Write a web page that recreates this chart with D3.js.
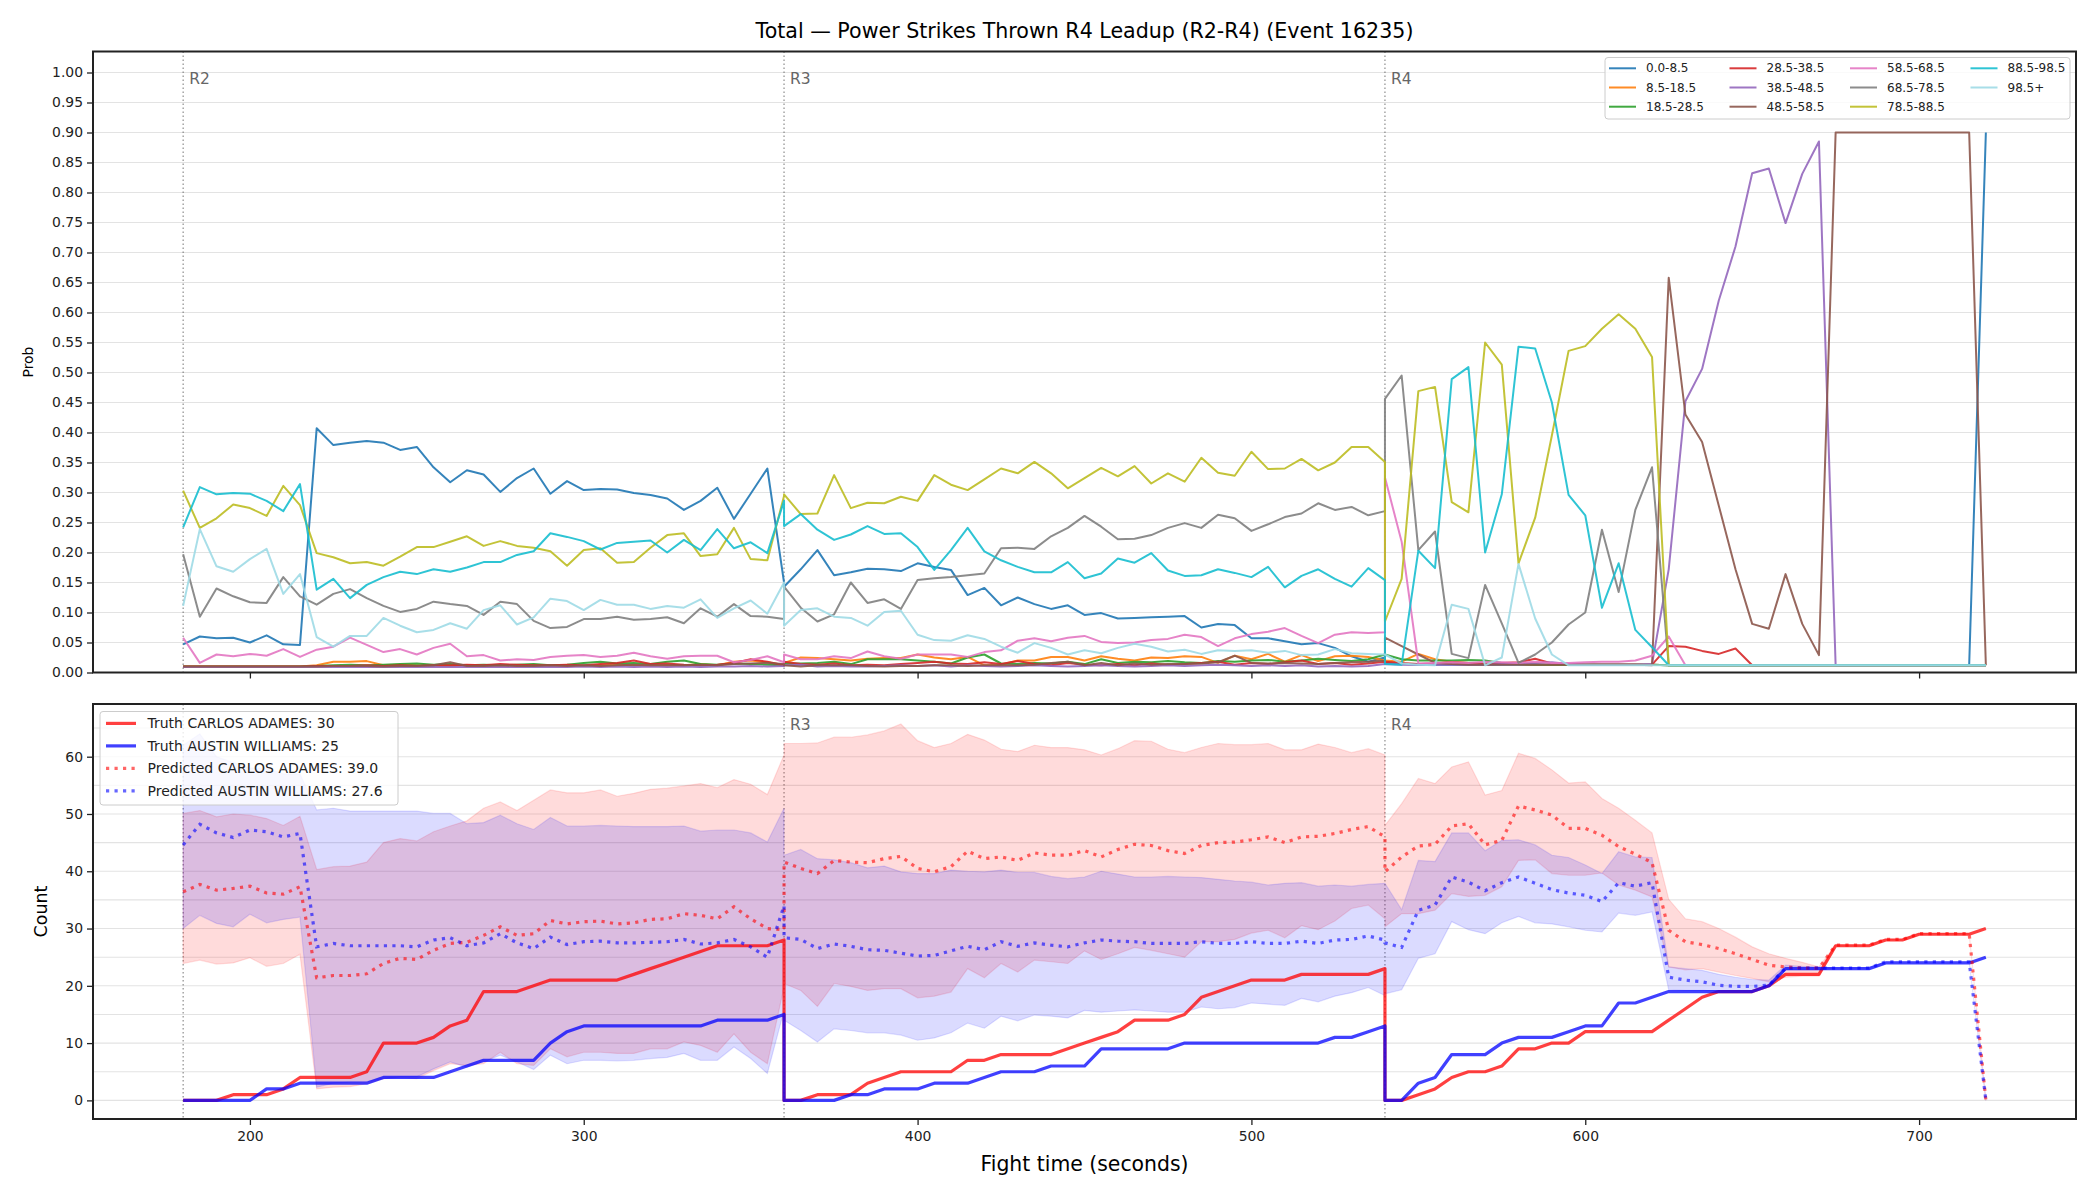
<!DOCTYPE html>
<html>
<head>
<meta charset="utf-8">
<script src="https://cdnjs.cloudflare.com/ajax/libs/d3/7.8.5/d3.min.js"></script>
<style>
  body { margin: 0; background: #fff; }
  svg { display: block; font-family: "DejaVu Sans", sans-serif; }
</style>
</head>
<body>
<svg id="chart" width="2100" height="1200"></svg>
<script>
// ---- data ----
const roundStarts = [180, 360, 540];
const roundLabels = ['R2', 'R3', 'R4'];
const probTicks = [0, 0.05, 0.1, 0.15, 0.2, 0.25, 0.3, 0.35, 0.4, 0.45, 0.5, 0.55, 0.6, 0.65, 0.7, 0.75, 0.8, 0.85, 0.9, 0.95, 1.0];
const countTicks = [0, 10, 20, 30, 40, 50, 60];
const countGrid = [0, 5, 10, 15, 20, 25, 30, 35, 40, 45, 50, 55, 60, 65];
const timeTicks = [200, 300, 400, 500, 600, 700];

const binLabels = ['0.0-8.5', '8.5-18.5', '18.5-28.5', '28.5-38.5', '38.5-48.5', '48.5-58.5',
  '58.5-68.5', '68.5-78.5', '78.5-88.5', '88.5-98.5', '98.5+'];
const binColors = ['#1f77b4', '#ff7f0e', '#2ca02c', '#d62728', '#9467bd', '#8c564b',
  '#e377c2', '#7f7f7f', '#bcbd22', '#17becf', '#9edae5'];

// each probability series: R2 (37 samples), R3 (37), R4 (37)
const bin_0_8 = [
  0.047,0.060,0.057,0.058,0.050,0.062,0.047,0.046,0.407,0.379,
  0.383,0.386,0.383,0.371,0.376,0.342,0.317,0.337,0.330,0.301,
  0.324,0.340,0.298,0.319,0.304,0.306,0.305,0.299,0.296,0.290,
  0.271,0.286,0.308,0.256,0.298,0.340,0.150,
  0.143,0.172,0.204,0.162,0.167,0.173,0.172,0.169,0.182,0.176,
  0.171,0.129,0.141,0.112,0.125,0.114,0.106,0.112,0.096,0.099,
  0.090,0.091,0.092,0.093,0.094,0.075,0.081,0.079,0.057,0.057,
  0.052,0.047,0.049,0.041,0.027,0.018,0.025,
  0.016,0.014,0.013,0.013,0.013,0.013,0.013,0.013,0.013,0.013,
  0.013,0.013,0.013,0.013,0.013,0.013,0.013,0.012,0.012,0.012,
  0.012,0.012,0.012,0.012,0.012,0.012,0.012,0.012,0.012,0.012,
  0.012,0.012,0.012,0.012,0.012,0.012,0.900
];
const bin_8_18 = [
  0.010,0.010,0.010,0.010,0.010,0.010,0.010,0.010,0.012,0.018,
  0.018,0.019,0.012,0.013,0.012,0.011,0.011,0.012,0.011,0.012,
  0.011,0.011,0.012,0.011,0.011,0.012,0.013,0.012,0.012,0.013,
  0.012,0.014,0.012,0.018,0.020,0.017,0.012,
  0.016,0.025,0.024,0.022,0.020,0.023,0.024,0.024,0.030,0.025,
  0.022,0.026,0.012,0.013,0.020,0.020,0.026,0.026,0.020,0.027,
  0.023,0.020,0.025,0.024,0.027,0.026,0.016,0.028,0.022,0.031,
  0.018,0.029,0.019,0.027,0.028,0.026,0.020,
  0.020,0.018,0.031,0.022,0.018,0.016,0.015,0.014,0.014,0.013,
  0.013,0.013,0.013,0.013,0.013,0.013,0.013,0.012,0.012,0.012,
  0.012,0.012,0.012,0.012,0.012,0.012,0.012,0.012,0.012,0.012,
  0.012,0.012,0.012,0.012,0.012,0.012,0.012
];
const bin_18_28 = [
  0.010,0.010,0.010,0.010,0.010,0.010,0.010,0.010,0.011,0.012,
  0.013,0.012,0.013,0.014,0.015,0.013,0.014,0.012,0.013,0.012,
  0.013,0.014,0.012,0.013,0.016,0.018,0.015,0.016,0.014,0.018,
  0.020,0.014,0.013,0.015,0.014,0.013,0.012,
  0.015,0.015,0.016,0.018,0.014,0.022,0.022,0.022,0.020,0.018,
  0.015,0.025,0.030,0.015,0.014,0.016,0.015,0.018,0.014,0.022,
  0.016,0.018,0.017,0.019,0.017,0.016,0.019,0.018,0.020,0.021,
  0.018,0.020,0.023,0.021,0.019,0.022,0.030,
  0.030,0.022,0.020,0.020,0.020,0.021,0.020,0.016,0.014,0.013,
  0.013,0.013,0.013,0.013,0.013,0.013,0.013,0.012,0.012,0.012,
  0.012,0.012,0.012,0.012,0.012,0.012,0.012,0.012,0.012,0.012,
  0.012,0.012,0.012,0.012,0.012,0.012,0.012
];
const bin_28_38 = [
  0.010,0.010,0.010,0.010,0.010,0.010,0.010,0.010,0.011,0.011,
  0.011,0.012,0.011,0.012,0.011,0.012,0.012,0.013,0.012,0.014,
  0.013,0.012,0.012,0.013,0.012,0.014,0.016,0.020,0.014,0.015,
  0.013,0.012,0.013,0.016,0.022,0.018,0.012,
  0.018,0.014,0.013,0.015,0.012,0.013,0.012,0.014,0.016,0.018,
  0.015,0.014,0.017,0.014,0.019,0.014,0.012,0.016,0.013,0.012,
  0.014,0.012,0.015,0.013,0.014,0.016,0.018,0.013,0.016,0.014,
  0.017,0.020,0.014,0.016,0.013,0.015,0.018,
  0.018,0.016,0.014,0.015,0.017,0.016,0.014,0.016,0.017,0.023,
  0.015,0.014,0.013,0.013,0.013,0.013,0.013,0.044,0.043,0.036,
  0.031,0.040,0.012,0.012,0.012,0.012,0.012,0.012,0.012,0.012,
  0.012,0.012,0.012,0.012,0.012,0.012,0.012
];
const bin_38_48 = [
  0.009,0.009,0.009,0.009,0.009,0.009,0.009,0.009,0.009,0.009,
  0.009,0.009,0.009,0.009,0.009,0.009,0.009,0.009,0.009,0.009,
  0.009,0.009,0.009,0.009,0.010,0.009,0.010,0.009,0.010,0.009,
  0.010,0.009,0.010,0.010,0.011,0.010,0.011,
  0.012,0.013,0.010,0.011,0.010,0.010,0.011,0.012,0.011,0.012,
  0.010,0.012,0.011,0.010,0.011,0.012,0.011,0.010,0.011,0.012,
  0.011,0.010,0.011,0.012,0.011,0.012,0.013,0.012,0.011,0.012,
  0.011,0.012,0.010,0.011,0.010,0.011,0.014,
  0.014,0.013,0.013,0.013,0.013,0.013,0.013,0.014,0.015,0.016,
  0.017,0.014,0.013,0.013,0.013,0.013,0.014,0.172,0.452,0.506,
  0.620,0.710,0.832,0.840,0.749,0.831,0.885,0.012,0.012,0.012,
  0.012,0.012,0.012,0.012,0.012,0.012,0.012
];
const bin_48_58 = [
  0.010,0.010,0.010,0.010,0.010,0.010,0.010,0.010,0.010,0.011,
  0.011,0.011,0.010,0.011,0.011,0.012,0.017,0.011,0.011,0.012,
  0.011,0.011,0.012,0.011,0.012,0.011,0.012,0.013,0.012,0.012,
  0.012,0.013,0.012,0.014,0.015,0.016,0.014,
  0.012,0.010,0.012,0.012,0.012,0.011,0.010,0.011,0.011,0.012,
  0.012,0.011,0.012,0.012,0.012,0.013,0.016,0.018,0.012,0.016,
  0.012,0.015,0.013,0.014,0.014,0.015,0.017,0.028,0.016,0.015,
  0.016,0.015,0.014,0.016,0.017,0.018,0.020,
  0.058,0.044,0.030,0.016,0.014,0.013,0.013,0.013,0.013,0.013,
  0.013,0.013,0.013,0.013,0.013,0.013,0.012,0.658,0.430,0.384,
  0.278,0.172,0.081,0.073,0.164,0.081,0.029,0.900,0.900,0.900,
  0.900,0.900,0.900,0.900,0.900,0.900,0.012
];
const bin_58_68 = [
  0.058,0.016,0.030,0.027,0.031,0.028,0.039,0.026,0.038,0.043,
  0.058,0.046,0.034,0.039,0.030,0.041,0.048,0.027,0.029,0.020,
  0.022,0.021,0.026,0.028,0.029,0.026,0.028,0.033,0.027,0.023,
  0.027,0.028,0.028,0.017,0.021,0.027,0.017,
  0.030,0.022,0.022,0.027,0.024,0.035,0.027,0.023,0.030,0.030,
  0.030,0.026,0.034,0.037,0.053,0.057,0.052,0.058,0.061,0.051,
  0.049,0.050,0.054,0.056,0.063,0.059,0.044,0.057,0.064,0.068,
  0.074,0.061,0.049,0.063,0.067,0.066,0.067,
  0.325,0.218,0.015,0.016,0.017,0.016,0.018,0.017,0.016,0.018,
  0.016,0.016,0.017,0.018,0.018,0.020,0.028,0.060,0.012,0.012,
  0.012,0.012,0.012,0.012,0.012,0.012,0.012,0.012,0.012,0.012,
  0.012,0.012,0.012,0.012,0.012,0.012,0.012
];
const bin_68_78 = [
  0.197,0.093,0.140,0.127,0.117,0.116,0.159,0.127,0.113,0.131,
  0.139,0.124,0.111,0.101,0.106,0.118,0.114,0.111,0.096,0.118,
  0.114,0.086,0.074,0.076,0.089,0.089,0.093,0.088,0.089,0.092,
  0.082,0.107,0.093,0.114,0.094,0.093,0.089,
  0.143,0.108,0.085,0.097,0.150,0.116,0.122,0.106,0.154,0.157,
  0.159,0.162,0.165,0.207,0.208,0.206,0.227,0.241,0.261,0.243,
  0.222,0.223,0.229,0.241,0.249,0.241,0.263,0.257,0.236,0.247,
  0.259,0.265,0.282,0.271,0.276,0.262,0.269,
  0.456,0.495,0.204,0.235,0.031,0.024,0.146,0.082,0.016,0.030,
  0.050,0.080,0.100,0.238,0.134,0.271,0.342,0.012,0.012,0.012,
  0.012,0.012,0.012,0.012,0.012,0.012,0.012,0.012,0.012,0.012,
  0.012,0.012,0.012,0.012,0.012,0.012,0.012
];
const bin_78_88 = [
  0.303,0.241,0.257,0.280,0.274,0.261,0.311,0.279,0.199,0.192,
  0.182,0.184,0.178,0.193,0.209,0.209,0.218,0.227,0.211,0.219,
  0.211,0.208,0.202,0.178,0.204,0.207,0.183,0.184,0.208,0.229,
  0.232,0.194,0.197,0.241,0.189,0.187,0.294,
  0.297,0.264,0.265,0.329,0.274,0.283,0.282,0.293,0.286,0.329,
  0.313,0.304,0.322,0.340,0.332,0.351,0.332,0.307,0.324,0.341,
  0.327,0.344,0.315,0.332,0.318,0.358,0.333,0.328,0.368,0.339,
  0.340,0.356,0.337,0.350,0.376,0.376,0.351,
  0.085,0.156,0.469,0.476,0.284,0.267,0.550,0.513,0.182,0.258,
  0.395,0.536,0.544,0.573,0.597,0.573,0.526,0.012,0.012,0.012,
  0.012,0.012,0.012,0.012,0.012,0.012,0.012,0.012,0.012,0.012,
  0.012,0.012,0.012,0.012,0.012,0.012,0.012
];
const bin_88_98 = [
  0.242,0.309,0.297,0.299,0.298,0.286,0.269,0.314,0.138,0.156,
  0.124,0.146,0.159,0.168,0.164,0.172,0.168,0.175,0.184,0.184,
  0.196,0.202,0.232,0.226,0.219,0.205,0.216,0.218,0.220,0.200,
  0.221,0.204,0.239,0.207,0.217,0.199,0.286,
  0.244,0.264,0.238,0.221,0.230,0.244,0.231,0.232,0.209,0.171,
  0.204,0.241,0.202,0.187,0.176,0.167,0.167,0.184,0.157,0.165,
  0.190,0.183,0.199,0.170,0.161,0.162,0.172,0.166,0.159,0.176,
  0.142,0.161,0.172,0.156,0.143,0.174,0.154,
  0.014,0.013,0.203,0.174,0.489,0.509,0.200,0.297,0.543,0.540,
  0.450,0.296,0.262,0.108,0.182,0.071,0.042,0.012,0.012,0.012,
  0.012,0.012,0.012,0.012,0.012,0.012,0.012,0.012,0.012,0.012,
  0.012,0.012,0.012,0.012,0.012,0.012,0.012
];
const bin_98_up = [
  0.111,0.239,0.177,0.168,0.189,0.206,0.131,0.164,0.059,0.043,
  0.061,0.061,0.091,0.078,0.067,0.071,0.082,0.073,0.104,0.112,
  0.080,0.092,0.123,0.119,0.104,0.121,0.113,0.113,0.106,0.111,
  0.108,0.122,0.091,0.107,0.120,0.098,0.150,
  0.078,0.104,0.107,0.093,0.091,0.078,0.101,0.103,0.063,0.054,
  0.053,0.062,0.056,0.043,0.033,0.049,0.041,0.030,0.037,0.032,
  0.041,0.048,0.043,0.035,0.038,0.031,0.037,0.036,0.037,0.033,
  0.036,0.029,0.030,0.039,0.032,0.031,0.030,
  0.030,0.015,0.013,0.012,0.113,0.106,0.012,0.025,0.181,0.090,
  0.030,0.012,0.012,0.012,0.012,0.012,0.012,0.012,0.012,0.012,
  0.012,0.012,0.012,0.012,0.012,0.012,0.012,0.012,0.012,0.012,
  0.012,0.012,0.012,0.012,0.012,0.012,0.012
];
const binSeries = [bin_0_8, bin_8_18, bin_18_28, bin_28_38, bin_38_48, bin_48_58,
  bin_58_68, bin_68_78, bin_78_88, bin_88_98, bin_98_up];

// counts (bottom panel), R2 / R3 / R4
const truthAdames = [
  0,0,0,1,1,1,2,4,4,4, 4,5,10,10,10,11,13,14,19,19, 19,20,21,21,21,21,21,22,23,24, 25,26,27,27,27,27,28,
  0,0,1,1,1,3,4,5,5,5, 5,7,7,8,8,8,8,9,10,11, 12,14,14,14,15,18,19,20,21,21, 21,22,22,22,22,22,23,
  0,0,1,2,4,5,5,6,9,9, 10,10,12,12,12,12,12,14,16,18, 19,19,19,20,22,22,22,27,27,27, 28,28,29,29,29,29,30
];
const truthWilliams = [
  0,0,0,0,0,2,2,3,3,3, 3,3,4,4,4,4,5,6,7,7, 7,7,10,12,13,13,13,13,13,13, 13,13,14,14,14,14,15,
  0,0,0,0,1,1,2,2,2,3, 3,3,4,5,5,5,6,6,6,9, 9,9,9,9,10,10,10,10,10,10, 10,10,10,11,11,12,13,
  0,0,3,4,8,8,8,10,11,11, 11,12,13,13,17,17,18,19,19,19, 19,19,19,20,23,23,23,23,23,23, 24,24,24,24,24,24,25
];
const predAdames = [
  36.4,37.7,36.7,37.0,37.4,36.2,36.0,37.3,21.4,21.8, 21.8,22.1,23.9,24.8,24.6,26.2,27.4,27.6,28.8,30.3,
  28.8,29.1,31.4,30.8,31.2,31.3,30.8,31.0,31.6,31.7, 32.6,32.3,31.7,33.8,31.7,30.0,29.8,
  41.6,40.5,39.6,41.9,41.6,41.5,42.2,42.6,40.5,39.9, 40.8,43.5,42.2,42.5,41.9,43.2,42.8,42.8,43.6,42.5,
  43.8,44.7,44.5,43.6,43.1,44.5,45.0,45.1,45.5,46.0, 45.0,46.0,46.1,46.6,47.3,47.8,46.0,
  39.9,42.5,44.4,44.7,47.9,48.3,44.6,45.4,51.4,50.7, 49.8,47.5,47.5,46.3,44.3,43.0,41.5,29.7,27.7,27.2,
  26.5,25.6,24.6,23.6,23.3,23.1,23.1,27.1,27.1,27.1, 28.1,28.1,29.1,29.1,29.1,29.1,0
];
const predWilliams = [
  44.6,48.2,46.7,45.9,47.2,46.9,46.0,46.6,26.8,27.4, 27.0,27.0,27.0,27.0,26.8,28.0,28.4,27.0,27.5,29.1,
  27.5,26.5,28.5,27.2,27.7,27.8,27.5,27.5,27.6,27.7, 28.1,27.3,27.5,28.1,26.8,25.0,34.0,
  28.4,28.1,26.5,27.3,26.9,26.3,26.2,25.7,25.2,25.3, 26.1,26.9,26.3,27.7,26.9,27.5,27.1,26.8,27.5,28.0,
  27.8,27.7,27.4,27.4,27.4,27.7,27.4,27.4,27.7,27.4, 27.4,27.8,27.4,28.0,28.1,28.7,28.0,
  27.5,26.7,33.2,34.1,39.0,38.1,36.6,38.0,39.0,37.9, 36.8,36.2,35.8,34.7,38.0,37.4,38.0,21.5,21.0,20.7,
  20.1,19.9,19.9,20.1,23.1,23.1,23.1,23.1,23.1,23.1, 24.2,24.2,24.2,24.2,24.2,24.2,0
];
const adamesLow = [
  23.9,24.5,23.8,24.0,24.9,23.4,23.9,25.5,2.0,2.3, 2.4,2.9,3.8,4.0,3.8,5.2,6.4,6.1,6.4,8.4,
  6.4,6.1,9.0,7.6,8.4,8.4,8.2,8.2,9.0,9.0, 10.2,9.6,8.4,11.6,8.4,6.4,19.8,
  20.4,19.2,16.4,20.4,19.9,19.2,19.5,19.5,17.9,18.2, 18.9,23.0,21.4,23.9,22.4,24.5,24.2,23.9,26.1,24.6,
  25.6,26.7,26.2,25.6,25.0,27.7,27.7,28.1,29.2,29.7, 28.4,30.5,29.8,31.3,33.5,34.1,31.7,
  30.3,32.6,32.6,33.2,36.1,35.6,35.8,37.3,41.9,42.0, 39.6,39.3,39.3,39.7,37.6,36.7,35.5,23.3,22.8,23.0,
  22.4,21.8,21.3,20.7,21.5,21.7,21.7,27.1,27.1,27.1, 28.1,28.1,29.1,29.1,29.1,29.1,0
];
const adamesHigh = [
  50.1,50.6,49.5,50.0,49.8,49.2,48.0,49.6,40.3,40.8, 40.9,41.6,45.0,45.7,45.3,46.9,47.9,48.8,51.0,52.1,
  50.6,52.4,54.2,53.7,53.7,54.2,53.1,53.6,54.3,54.5, 54.9,55.3,54.6,56.0,55.2,53.4,60.3,
  62.3,62.3,62.4,63.4,63.4,63.8,64.5,65.7,62.8,61.6, 62.3,63.9,62.9,61.3,60.9,62.0,61.6,61.6,61.2,60.3,
  61.4,62.8,62.7,61.3,60.7,61.6,62.3,62.1,62.1,62.3, 61.2,61.2,62.2,61.6,60.7,61.4,60.3,
  48.0,51.8,56.2,55.3,58.2,59.1,53.3,54.1,60.6,59.7, 57.7,55.4,55.6,52.7,51.0,48.9,46.7,35.1,31.7,31.2,
  30.0,28.5,26.8,25.6,24.8,24.1,23.3,27.1,27.1,27.1, 28.1,28.1,29.1,29.1,29.1,29.1,0
];
const williamsLow = [
  30.0,32.3,30.9,30.3,32.5,31.0,31.6,32.0,2.3,3.0, 3.2,3.3,3.8,4.1,4.1,5.5,6.7,5.8,6.7,7.9,
  6.7,5.4,7.9,6.4,7.0,7.0,6.9,7.0,7.3,7.5, 8.2,7.0,7.0,9.3,7.3,4.7,15.7,
  14.0,12.2,10.2,12.5,12.2,11.8,11.8,11.4,10.5,10.9, 11.8,13.5,12.6,14.7,13.9,14.9,14.7,14.4,15.7,15.4,
  15.6,15.8,15.6,15.4,15.4,16.3,16.0,16.2,17.0,16.8, 16.6,17.8,17.2,18.2,18.8,19.7,18.3,
  18.6,19.3,24.8,25.6,31.2,29.8,29.1,31.0,32.1,31.0, 30.8,30.3,29.7,29.4,32.7,32.3,32.9,19.3,19.2,19.2,
  19.1,19.1,19.1,19.9,22.8,22.8,22.8,23.1,23.1,23.1, 24.2,24.2,24.2,24.2,24.2,24.2,0
];
const williamsHigh = [
  62.0,64.0,60.0,59.0,58.0,58.0,57.0,57.0,50.7,51.0, 50.5,50.5,50.5,50.5,50.5,50.1,50.1,48.3,48.5,49.8,
  48.3,47.3,49.4,47.9,47.9,48.0,47.9,47.8,47.8,47.8, 47.9,47.0,47.2,47.2,46.7,45.1,51.0,
  42.8,43.8,42.2,42.0,41.5,40.6,40.9,39.9,39.6,39.6, 40.2,40.0,39.9,40.2,39.8,39.8,39.1,38.7,39.0,40.0,
  39.5,39.0,39.0,39.1,39.0,38.9,38.6,38.3,38.1,37.6, 37.9,38.0,37.4,37.6,37.4,37.7,37.9,
  37.9,33.3,41.9,41.7,46.7,46.7,43.6,45.4,45.5,44.6, 42.8,42.4,41.1,39.6,43.4,42.5,42.4,23.3,23.0,22.7,
  22.0,21.5,21.1,21.0,23.6,23.4,23.3,23.1,23.1,23.1, 24.2,24.2,24.2,24.2,24.2,24.2,0
];

// sample times: every 5 s inside each 180 s round, both round edges kept
const times = roundStarts.flatMap(s => d3.range(0, 181, 5).map(o => s + o));

// ---- layout ----
const L = 93, R = 2076;
const panelTop = { y0: 51.5, y1: 672.5 };
const panelBot = { y0: 704, y1: 1119 };
const ink = '#222';

const svg = d3.select('#chart');
const x = d3.scaleLinear().domain([153, 747]).range([L, R]);
const yTop = d3.scaleLinear().domain([0, 1.035]).range([panelTop.y1, panelTop.y0]);
const yBot = d3.scaleLinear().domain([-3.25, 69.2]).range([panelBot.y1, panelBot.y0]);

// title
svg.append('text')
  .attr('x', (L + R) / 2).attr('y', 38)
  .attr('text-anchor', 'middle')
  .style('font-size', '20.6px').attr('fill', '#000')
  .text('Total \u2014 Power Strikes Thrown R4 Leadup (R2-R4) (Event 16235)');

function gridLines(g, vals, yScale) {
  g.selectAll('line.grid').data(vals).enter().append('line')
    .attr('class', 'grid')
    .attr('x1', L).attr('x2', R)
    .attr('y1', d => yScale(d)).attr('y2', d => yScale(d))
    .attr('stroke', '#e3e3e3').attr('stroke-width', 1.1);
}

// dotted round boundaries; labelled rounds given by index
function roundMarks(g, yScale, panel, labelled) {
  roundStarts.forEach((t, i) => {
    g.append('line')
      .attr('x1', x(t)).attr('x2', x(t))
      .attr('y1', panel.y0).attr('y2', panel.y1)
      .attr('stroke', '#555').attr('stroke-width', 1)
      .attr('stroke-dasharray', '1.5,2.5').attr('opacity', 0.8);
    if (labelled.includes(i)) {
      const ymax = yScale.domain()[1];
      g.append('text')
        .attr('x', x(t) + 6).attr('y', yScale(ymax * 0.97) + 14)
        .style('font-size', '15.5px').attr('fill', '#666')
        .text(roundLabels[i]);
    }
  });
}

function styleAxis(g) {
  g.select('.domain').remove();
  g.selectAll('.tick line').attr('stroke', ink).attr('stroke-width', 1.3);
  g.selectAll('.tick text').attr('fill', ink).style('font-size', '13.9px')
    .style('font-family', '"DejaVu Sans", sans-serif');
}

function frame(g, panel) {
  g.append('rect')
    .attr('x', L).attr('y', panel.y0)
    .attr('width', R - L).attr('height', panel.y1 - panel.y0)
    .attr('fill', 'none').attr('stroke', ink).attr('stroke-width', 2);
}

// ---- top panel: probabilities per bin ----
const gT = svg.append('g');
gridLines(gT, probTicks, yTop);
roundMarks(gT, yTop, panelTop, [0, 1, 2]);

const lineTop = d3.line().x((d, i) => x(times[i])).y(d => yTop(d));
binSeries.forEach((s, k) => {
  gT.append('path')
    .attr('d', lineTop(s))
    .attr('fill', 'none')
    .attr('stroke', binColors[k])
    .attr('stroke-width', 2)
    .attr('stroke-opacity', 0.9)
    .attr('stroke-linejoin', 'round');
});

gT.append('g').attr('transform', `translate(${L},0)`)
  .call(d3.axisLeft(yTop).tickValues(probTicks).tickFormat(d3.format('.2f')).tickSize(6).tickPadding(4))
  .call(styleAxis);
gT.append('g').attr('transform', `translate(0,${panelTop.y1})`)
  .call(d3.axisBottom(x).tickValues(timeTicks).tickFormat('').tickSize(6))
  .call(styleAxis);
frame(gT, panelTop);

svg.append('text')
  .attr('transform', `translate(28,${(panelTop.y0 + panelTop.y1) / 2}) rotate(-90)`)
  .attr('text-anchor', 'middle').attr('dominant-baseline', 'central')
  .style('font-size', '13.9px').attr('fill', '#000')
  .text('Prob');

// legend (4 columns, filled column by column)
const legT = gT.append('g');
legT.append('rect')
  .attr('x', 1605).attr('y', 57.5).attr('width', 465).attr('height', 61.5)
  .attr('rx', 3).attr('fill', '#fff').attr('fill-opacity', 0.8)
  .attr('stroke', '#cccccc').attr('stroke-width', 1);
binLabels.forEach((lab, k) => {
  const col = Math.floor(k / 3), row = k % 3;
  const lx = 1609 + col * 120.5, ly = 68.3 + row * 19.2;
  legT.append('line')
    .attr('x1', lx).attr('x2', lx + 27).attr('y1', ly).attr('y2', ly)
    .attr('stroke', binColors[k]).attr('stroke-width', 2).attr('stroke-opacity', 0.9);
  legT.append('text')
    .attr('x', lx + 37).attr('y', ly).attr('dominant-baseline', 'central')
    .style('font-size', '12px').attr('fill', ink)
    .text(lab);
});

// ---- bottom panel: counts ----
const gB = svg.append('g');
gridLines(gB, countGrid, yBot);
roundMarks(gB, yBot, panelBot, [1, 2]);

const fighters = [
  { name: 'CARLOS ADAMES', color: '#ff0000', truth: truthAdames, pred: predAdames, lo: adamesLow, hi: adamesHigh },
  { name: 'AUSTIN WILLIAMS', color: '#0000ff', truth: truthWilliams, pred: predWilliams, lo: williamsLow, hi: williamsHigh }
];

const band = d3.area()
  .x(d => x(d.t)).y0(d => yBot(d.lo)).y1(d => yBot(d.hi));
fighters.forEach(f => {
  const pts = times.map((t, i) => ({ t, lo: f.lo[i], hi: f.hi[i] }));
  gB.append('path')
    .attr('d', band(pts))
    .attr('fill', f.color).attr('fill-opacity', 0.14)
    .attr('stroke', f.color).attr('stroke-opacity', 0.12).attr('stroke-width', 1.2);
});

const lineBot = d3.line().x((d, i) => x(times[i])).y(d => yBot(d));
fighters.forEach(f => {
  gB.append('path')
    .attr('d', lineBot(f.truth))
    .attr('fill', 'none').attr('stroke', f.color)
    .attr('stroke-opacity', 0.75).attr('stroke-width', 3.2)
    .attr('stroke-linejoin', 'round');
});
fighters.forEach(f => {
  gB.append('path')
    .attr('d', lineBot(f.pred))
    .attr('fill', 'none').attr('stroke', f.color)
    .attr('stroke-opacity', 0.6).attr('stroke-width', 3.2)
    .attr('stroke-dasharray', '3.2,5.3');
});

gB.append('g').attr('transform', `translate(${L},0)`)
  .call(d3.axisLeft(yBot).tickValues(countTicks).tickSize(6).tickPadding(4))
  .call(styleAxis);
gB.append('g').attr('transform', `translate(0,${panelBot.y1})`)
  .call(d3.axisBottom(x).tickValues(timeTicks).tickSize(6).tickPadding(6))
  .call(styleAxis);
frame(gB, panelBot);

svg.append('text')
  .attr('transform', `translate(41,${(panelBot.y0 + panelBot.y1) / 2}) rotate(-90)`)
  .attr('text-anchor', 'middle').attr('dominant-baseline', 'central')
  .style('font-size', '17.5px').attr('fill', '#000')
  .text('Count');

svg.append('text')
  .attr('x', (L + R) / 2).attr('y', 1171)
  .attr('text-anchor', 'middle')
  .style('font-size', '20.4px').attr('fill', '#000')
  .text('Fight time (seconds)');

// bottom legend
const legB = gB.append('g');
legB.append('rect')
  .attr('x', 100).attr('y', 711.5).attr('width', 298).attr('height', 93.5)
  .attr('rx', 3).attr('fill', '#fff').attr('fill-opacity', 0.8)
  .attr('stroke', '#cccccc').attr('stroke-width', 1);
const legRows = [
  { label: 'Truth CARLOS ADAMES: 30', color: '#ff0000', dotted: false },
  { label: 'Truth AUSTIN WILLIAMS: 25', color: '#0000ff', dotted: false },
  { label: 'Predicted CARLOS ADAMES: 39.0', color: '#ff0000', dotted: true },
  { label: 'Predicted AUSTIN WILLIAMS: 27.6', color: '#0000ff', dotted: true }
];
legRows.forEach((r, k) => {
  const ly = 723.4 + k * 22.5;
  legB.append('line')
    .attr('x1', 106).attr('x2', 136).attr('y1', ly).attr('y2', ly)
    .attr('stroke', r.color)
    .attr('stroke-opacity', r.dotted ? 0.6 : 0.75)
    .attr('stroke-width', 3.2)
    .attr('stroke-dasharray', r.dotted ? '3.2,5.3' : null);
  legB.append('text')
    .attr('x', 147.5).attr('y', ly).attr('dominant-baseline', 'central')
    .style('font-size', '14px').attr('fill', ink)
    .text(r.label);
});
</script>
</body>
</html>
